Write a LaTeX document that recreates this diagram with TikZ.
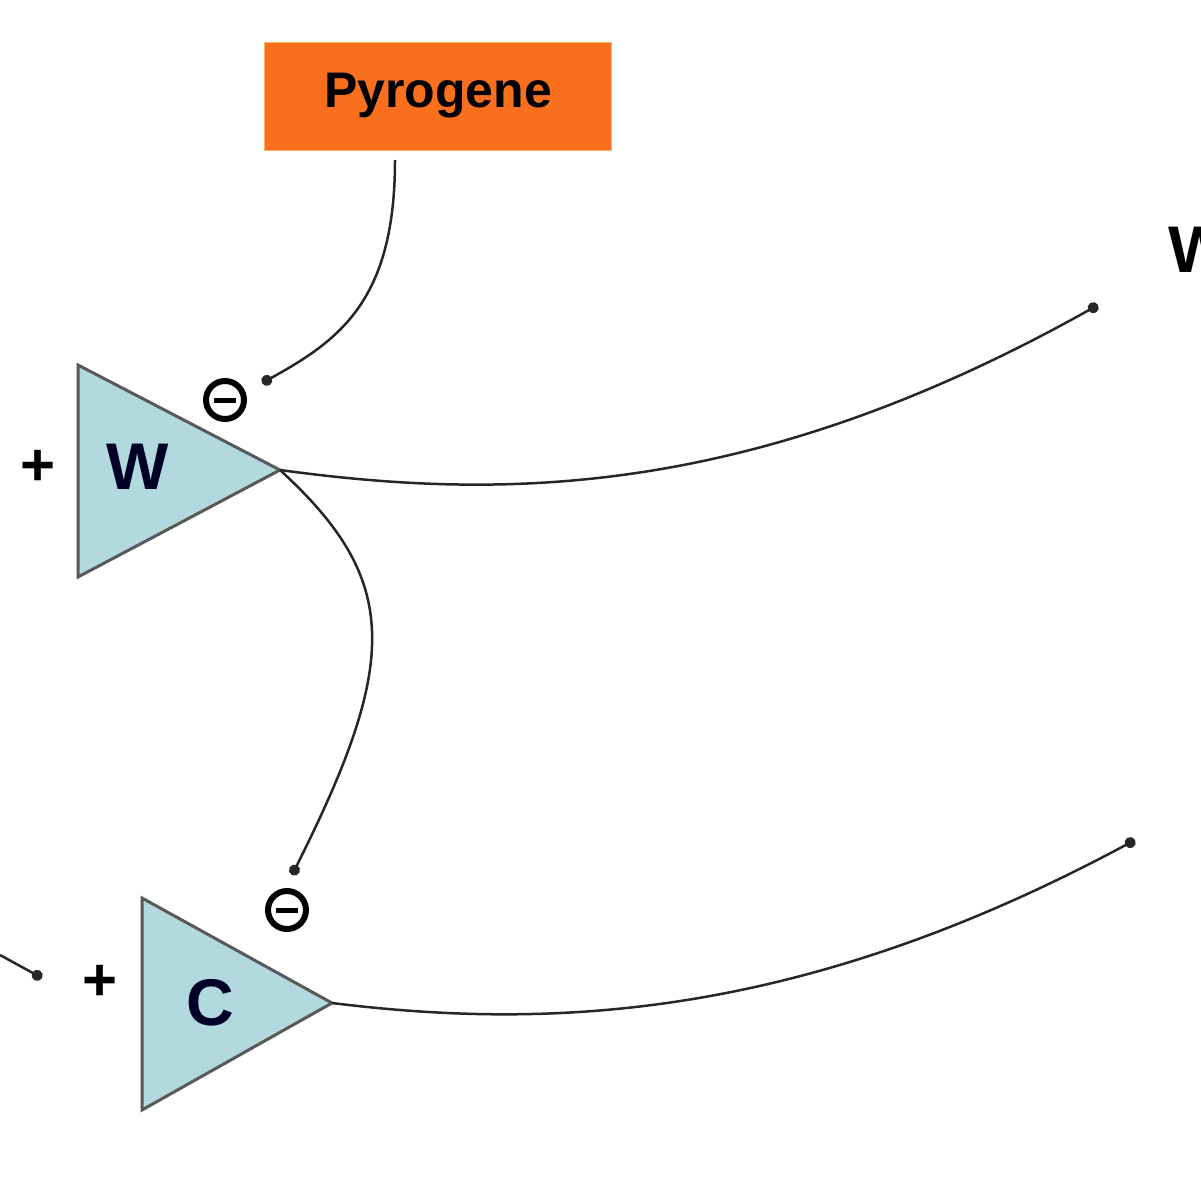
\documentclass[tikz,border=0pt]{standalone}
\usepackage{fontspec}
\setmainfont{Liberation Sans}
\usetikzlibrary{arrows.meta}
\definecolor{ampfill}{RGB}{178,218,222}
\definecolor{pyro}{RGB}{248,112,30}
\begin{document}
\begin{tikzpicture}[x=1pt,y=-1pt,
  amp/.style={draw=gray!70!black,line width=3pt,fill=ampfill,line join=miter},
  con/.style={draw=gray!30!black,line width=2.5pt,-{Circle[length=11pt]}},
  lab/.style={font=\bfseries\fontsize{66}{66}\selectfont,text=black!85!blue},
  sgn/.style={font=\bfseries\fontsize{60}{60}\selectfont},
  neg/.style={circle,draw,line width=6pt,minimum size=38pt,inner sep=0pt}]
\useasboundingbox (0,0) rectangle (1200,1201);
\node[fill=pyro,draw=orange!60,minimum width=347pt,minimum height=108pt,font=\bfseries\fontsize{50}{50}\selectfont] (pyro) at (438,96) {Pyrogene};
\path[amp] (78,365) -- (78,577) -- (280,470) coordinate (wt) -- cycle;
\path[amp] (142,898) -- (142,1110) -- (332,1003) coordinate (ct) -- cycle;
\node[lab] (wl) at (138,467) {W};
\node[lab] (cl) at (210,1003) {C};
\node[sgn] (p1) at (38,468) {+};
\node[sgn] (p2) at (100,983) {+};
\node[neg] (n1) at (225,400) {};
\draw[line width=5pt] (214,400) -- (236,400);
\node[neg] (n2) at (287,910) {};
\draw[line width=5pt] (276,910) -- (298,910);
\coordinate (e1) at (262,383);
\coordinate (e2) at (1098,305);
\coordinate (e3) at (292,875);
\coordinate (e4) at (1135,840);
\coordinate (s0) at (0,955);
\coordinate (e5) at (42,978);
\coordinate (ps) at (395,160);
\draw[con] (ps) .. controls (395,300) and (340,340) .. (e1);
\draw[con] (wt) .. controls (500,500) and (750,500) .. (e2);
\draw[con] (wt) .. controls (400,580) and (400,660) .. (e3);
\draw[con] (ct) .. controls (550,1030) and (800,1020) .. (e4);
\draw[con] (s0) -- (e5);
\node[lab,anchor=west,text=black] (wr) at (1165,250) {W};
\end{tikzpicture}
\end{document}
